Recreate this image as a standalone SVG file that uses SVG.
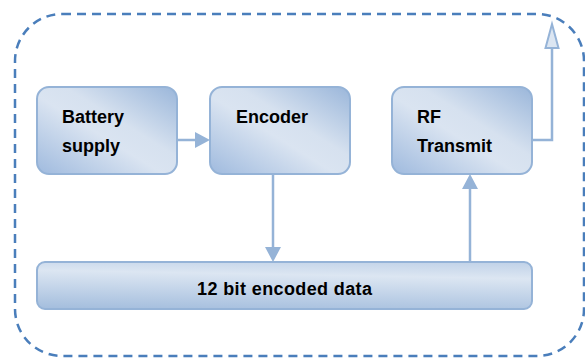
<svg xmlns="http://www.w3.org/2000/svg" width="585" height="358" viewBox="0 0 585 358">
<defs>
<linearGradient id="g" x1="0" y1="1" x2="1" y2="0">
<stop offset="0" stop-color="#9fbade"/>
<stop offset="0.45" stop-color="#dae4f1"/>
<stop offset="0.6" stop-color="#d6e1ef"/>
<stop offset="1" stop-color="#9ab6da"/>
</linearGradient>
<linearGradient id="gb" x1="0" y1="1" x2="0.3" y2="-0.6">
<stop offset="0" stop-color="#a3bddd"/>
<stop offset="0.5" stop-color="#dce6f2"/>
<stop offset="1" stop-color="#9ab6da"/>
</linearGradient>
<marker id="ah" markerWidth="10" markerHeight="10" refX="9" refY="5" orient="auto" markerUnits="userSpaceOnUse" viewBox="0 0 10 10">
<path d="M0,0 L10,5 L0,10 Z" fill="#95b3d7"/>
</marker>
<style>
.box{fill:url(#g);stroke:#95b3d7;stroke-width:2}
.bar{fill:url(#gb);stroke:#95b3d7;stroke-width:2}
.t{font-family:"Liberation Sans",Arial,sans-serif;font-weight:bold;font-size:18px;fill:#000}
.c{fill:none;stroke:#95b3d7;stroke-width:2.5}
</style>
</defs>
<rect x="15" y="14" width="569" height="342" rx="47" ry="47" fill="none" stroke="#4a7ebb" stroke-width="2.5" stroke-dasharray="9,6"/>
<g id="battery">
<rect class="box" x="37" y="87" width="140" height="87" rx="12"/>
<text class="t" x="62" y="123">Battery</text>
<text class="t" x="62" y="152">supply</text>
</g>
<g id="encoder">
<rect class="box" x="210" y="87" width="140" height="87" rx="12"/>
<text class="t" x="236" y="123">Encoder</text>
</g>
<g id="rf">
<rect class="box" x="392" y="87" width="140" height="87" rx="12"/>
<text class="t" x="417" y="123">RF</text>
<text class="t" x="417" y="152">Transmit</text>
</g>
<g id="data">
<rect class="bar" x="37" y="262" width="495" height="47" rx="8"/>
<text class="t" x="197" y="295" textLength="175">12 bit encoded data</text>
</g>
<g id="connectors">
<line class="c" x1="177" y1="140" x2="196" y2="140"/>
<path d="M195,132 L210,140 L195,148 Z" fill="#95b3d7"/>
<line class="c" x1="273" y1="174" x2="273" y2="248"/>
<path d="M265,247 L273,262 L281,247 Z" fill="#95b3d7"/>
<line class="c" x1="470" y1="262" x2="470" y2="188"/>
<path d="M462,189 L470,174 L478,189 Z" fill="#95b3d7"/>
<polyline class="c" points="532,140 552,140 552,48"/>
<path d="M545.5,48 L552,24 L558.5,48 Z" fill="#dce6f2" stroke="#95b3d7" stroke-width="2"/>
</g>
</svg>
